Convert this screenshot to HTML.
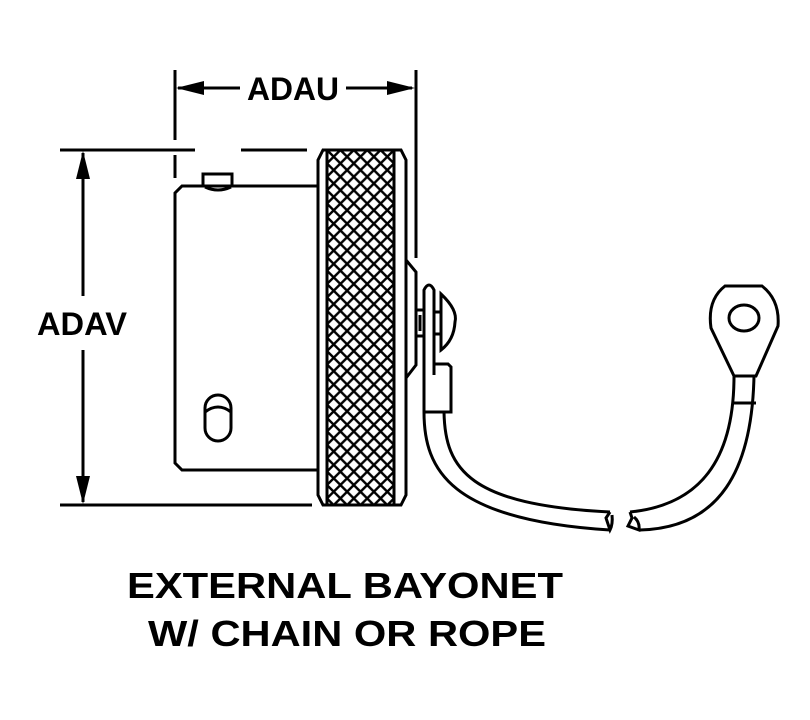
<!DOCTYPE html>
<html><head><style>html,body{margin:0;padding:0;background:#fff}svg{display:block}</style></head>
<body>
<svg width="810" height="720" viewBox="0 0 810 720" xmlns="http://www.w3.org/2000/svg">
<defs>
<pattern id="kn" width="13.4" height="13.4" patternUnits="userSpaceOnUse" x="327" y="150">
<path d="M-3,3 L3,-3 M0,13.4 L13.4,0 M10.4,16.4 L16.4,10.4 M-3,10.4 L3,16.4 M0,0 L13.4,13.4 M10.4,-3 L16.4,3" stroke="#000" stroke-width="2.4"/>
</pattern>
</defs>
<g fill="none" stroke="#000" stroke-width="3">
<line x1="175" y1="70" x2="175" y2="140"/>
<line x1="175" y1="155" x2="175" y2="178"/>
<line x1="416" y1="70" x2="416" y2="258"/>
<line x1="178" y1="88" x2="240" y2="88"/>
<line x1="346" y1="88" x2="412" y2="88"/>
<line x1="60" y1="150" x2="195" y2="150"/>
<line x1="241" y1="150" x2="307" y2="150"/>
<line x1="60" y1="505" x2="312" y2="505"/>
<line x1="83" y1="153" x2="83" y2="296"/>
<line x1="83" y1="350" x2="83" y2="502"/>
<path d="M318,186 L182,186 L175,193 L175,463 L182,470 L318,470"/>
<path d="M203,186 L203,174 L232,174 L232,186"/>
<path d="M205,187 Q218,193 231,187"/>
<path d="M205,428 L205,408 A13,13 0 0 1 231,408 L231,428 A13,13 0 0 1 205,428 Z"/>
<path d="M205,412 Q218,402 231,412"/>
<path d="M318,160 L323,150 L401,150 L406,160 L406,495 L401,505 L323,505 L318,495 Z"/>
<rect x="327" y="150" width="67" height="355" fill="url(#kn)"/>
<line x1="327" y1="150" x2="327" y2="505"/>
<line x1="394" y1="150" x2="394" y2="505"/>
<path d="M406,260 L416,272 L416,365 L406,378"/>
<path d="M424,412 L424,290 Q429,280 434,290 L434,375"/>
<rect x="416" y="310" width="8" height="26"/>
<line x1="420" y1="315" x2="420" y2="331"/>
<path d="M441,294 Q458,310 455,322 Q454,340 441,350 Z"/>
<line x1="434" y1="312" x2="441" y2="312"/>
<line x1="434" y1="334" x2="441" y2="334"/>
<path d="M434,364 L448,364 L451,367 L451,412 L424,412"/>
<path d="M424,412 C424,470 450,520 610,530"/>
<path d="M444,412 C445,470 470,505 610,512"/>
<path d="M610,512 L606,518 L610,530 Q613,524 612,515"/>
<path d="M734,376 C734,460 700,505 630,512"/>
<path d="M754,376 C752,470 720,528 640,530"/>
<path d="M630,512 L632,518 L628,526 L639,530 Q640,522 634,517"/>
<path d="M734,376 L711,328 Q707,300 725,286 L762,286 Q780,300 778,326 L756,376 Z"/>
<line x1="734" y1="376" x2="756" y2="376"/>
<line x1="734" y1="403" x2="756" y2="403"/>
<ellipse cx="744" cy="318" rx="15" ry="13"/>
</g>
<g fill="#000">
<polygon points="176,88 204,81 204,95"/>
<polygon points="415,88 387,81 387,95"/>
<polygon points="83,151 76,179 90,179"/>
<polygon points="83,504 76,476 90,476"/>
</g>
<g font-family="Liberation Sans, sans-serif" font-weight="bold" fill="#000">
<text x="293" y="100" font-size="32" text-anchor="middle" textLength="92" lengthAdjust="spacingAndGlyphs">ADAU</text>
<text x="82" y="335" font-size="32" text-anchor="middle" textLength="90" lengthAdjust="spacingAndGlyphs">ADAV</text>
<text x="345" y="598" font-size="36" text-anchor="middle" textLength="436" lengthAdjust="spacingAndGlyphs">EXTERNAL BAYONET</text>
<text x="347" y="646" font-size="36" text-anchor="middle" textLength="398" lengthAdjust="spacingAndGlyphs">W/ CHAIN OR ROPE</text>
</g>
</svg>
</body></html>
